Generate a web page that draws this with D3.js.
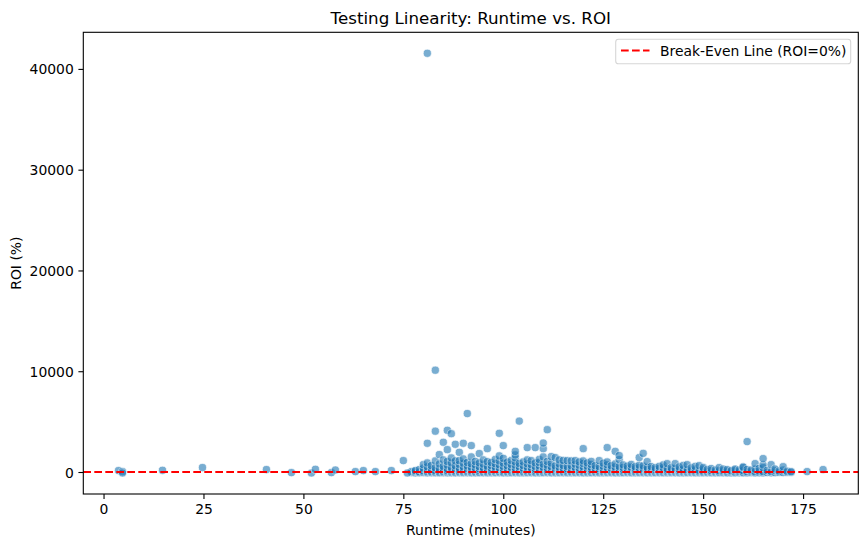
<!DOCTYPE html>
<html>
  <head>
    <meta content="text/html;charset=utf-8" http-equiv="Content-Type" />
    <title>Testing Linearity: Runtime vs. ROI</title>
    <script src="https://d3js.org/d3.v7.min.js"></script>
    <style>
      body { margin: 0; background: #fff; }
      svg text { font-family: "DejaVu Sans", sans-serif; fill: #000; }
    </style>
  </head>

  <body>
    <div id="canvas"></div>
  </body>

  <script>
    // runtime (minutes), ROI (%) for the scattered films outside the main blob
    var sparsePoints = [
      [3.75, 140], [4.75, 40], [4.75, -100], [14.75, 170], [24.75, 440],
      [40.75, 240], [47, -60], [52, -100], [53, 270], [57, -60], [58, 200],
      [63, 40], [65, 140], [68, 40], [72, 140], [75, 1130], [76, -100],
      [176, 40], [180, 240]
    ];

    // high ROI films
    var highPoints = [
      [81, 41550], [83, 10100], [91, 5800], [104, 5050], [111, 4200],
      [83, 4050], [86, 4140], [87, 3800], [99, 3840], [81, 2850], [85, 2950],
      [88, 2750], [90, 2850], [92, 2620], [86, 2220], [96, 2320], [100, 2620],
      [106, 2420], [108, 2420], [110, 2320], [110, 2880], [120, 2320],
      [126, 2420], [128, 2050], [129, 1630], [135, 1850], [161, 3020],
      [165, 1330]
    ];

    // dense blob: runtime -> list of ROI values
    var clusterRows = [
      [77, [-60, 40]],
      [78, [-90, 60, 150]],
      [79, [-80, 20, 250]],
      [80, [-70, 10, 120, 380, 730]],
      [81, [-95, -30, 60, 210, 520, 900]],
      [82, [-85, -20, 80, 300, 640]],
      [83, [-90, -40, 30, 150, 420, 1100]],
      [84, [-100, -50, 20, 180, 350, 800, 1730]],
      [85, [-80, 0, 90, 260, 560, 1200]],
      [86, [-95, -35, 50, 140, 310, 680, 1050]],
      [87, [-90, -10, 110, 240, 470, 900, 1400]],
      [88, [-100, -60, 30, 170, 330, 620, 1100]],
      [89, [-85, -25, 70, 210, 400, 760, 1130, 1950]],
      [90, [-95, -45, 15, 120, 280, 510, 880, 1300]],
      [91, [-80, -20, 60, 190, 350, 600, 950]],
      [92, [-100, -55, 25, 140, 300, 480, 820, 1500]],
      [93, [-90, -30, 80, 230, 420, 700, 1050]],
      [94, [-95, -40, 10, 160, 320, 540, 900, 1830]],
      [95, [-85, -15, 100, 250, 450, 780, 1200]],
      [96, [-100, -50, 40, 180, 340, 580, 1030]],
      [97, [-90, -25, 70, 210, 390, 650, 950]],
      [98, [-95, -35, 20, 150, 290, 500, 830, 1250]],
      [99, [-80, -10, 90, 240, 430, 720, 1100, 1600]],
      [100, [-100, -60, 30, 170, 330, 560, 880, 1350]],
      [101, [-90, -30, 60, 200, 370, 620, 980]],
      [102, [-95, -45, 15, 130, 280, 470, 760, 1150]],
      [103, [-85, -20, 80, 220, 400, 690, 1000, 1400, 1700, 2050]],
      [104, [-100, -50, 40, 160, 310, 540, 850]],
      [105, [-90, -25, 70, 210, 380, 640, 1000]],
      [106, [-95, -40, 20, 140, 290, 500, 820, 1200]],
      [107, [-85, -15, 100, 250, 440, 740, 1130]],
      [108, [-100, -55, 30, 170, 330, 560, 900]],
      [109, [-90, -30, 60, 200, 360, 610, 950, 1250]],
      [110, [-95, -45, 10, 130, 270, 480, 780, 1500]],
      [111, [-80, -10, 90, 230, 410, 680, 1050]],
      [112, [-100, -60, 25, 160, 320, 540, 880, 1530]],
      [113, [-90, -30, 70, 200, 370, 600, 1430]],
      [114, [-95, -40, 15, 140, 280, 490, 800, 1200]],
      [115, [-85, -20, 80, 220, 390, 650, 1150]],
      [116, [-100, -50, 35, 170, 320, 550, 1130]],
      [117, [-90, -25, 60, 200, 360, 620, 1100]],
      [118, [-95, -45, 20, 130, 270, 470, 780, 1130]],
      [119, [-85, -15, 90, 230, 400, 680, 1000]],
      [120, [-100, -55, 30, 160, 310, 520, 850, 1100]],
      [121, [-90, -30, 70, 200, 350, 590, 900]],
      [122, [-95, -40, 10, 140, 280, 460, 760, 1050]],
      [123, [-85, -20, 80, 220, 380, 630]],
      [124, [-100, -50, 40, 170, 320, 540, 1130]],
      [125, [-90, -25, 60, 190, 340, 580, 880]],
      [126, [-95, -45, 20, 130, 260, 450, 720, 1000]],
      [127, [-85, -15, 90, 220, 380, 620]],
      [128, [-100, -55, 30, 160, 300, 500, 800]],
      [129, [-90, -30, 70, 200, 340, 560, 1230]],
      [130, [-95, -40, 10, 140, 270, 450, 700]],
      [131, [-85, -20, 80, 210, 360, 580]],
      [132, [-100, -50, 30, 160, 300, 480, 750]],
      [133, [-90, -25, 60, 190, 330, 520]],
      [134, [-95, -45, 20, 130, 260, 430, 680, 1430]],
      [135, [-85, -15, 90, 220, 370, 600]],
      [136, [-100, -55, 30, 150, 290, 460, 1030]],
      [137, [-90, -30, 70, 190, 330, 540]],
      [138, [-95, -40, 10, 130, 260, 420]],
      [139, [-85, -20, 80, 200, 350, 560]],
      [140, [-100, -50, 30, 150, 280, 450, 700]],
      [141, [-90, -25, 60, 180, 320, 830]],
      [142, [-95, -45, 20, 120, 250, 420]],
      [143, [-85, -15, 90, 210, 360, 830]],
      [144, [-100, -55, 30, 140, 280, 500]],
      [145, [-90, -30, 60, 170, 310, 650]],
      [146, [-95, -40, 10, 120, 240, 730]],
      [147, [-85, -20, 80, 190, 400]],
      [148, [-100, -50, 30, 140, 280, 560]],
      [149, [-90, -25, 60, 170, 630]],
      [150, [-95, -45, 20, 120, 300, 450]],
      [151, [-85, -15, 90, 230]],
      [152, [-100, -50, 30, 150, 350]],
      [153, [-90, -30, 70, 200]],
      [154, [-95, -40, 10, 130, 440]],
      [155, [-85, 20, 140, 300]],
      [156, [-100, -30, 100, 250]],
      [157, [-90, 40, 140]],
      [158, [-95, 10, 180, 300]],
      [159, [-80, 60, 200]],
      [160, [-100, -20, 130, 440, 500]],
      [161, [-90, 30, 250]],
      [162, [-70, 80, 200]],
      [163, [-95, 20, 300, 830]],
      [164, [-80, 100, 350]],
      [165, [-90, 40, 440, 700]],
      [166, [-60, 150]],
      [167, [-85, 60, 730]],
      [168, [-70, 140, 300]],
      [169, [-50, 100]],
      [170, [-60, 200, 530]],
      [171, [-40, 80]],
      [172, [-50, 40]]
    ];

    var xTicks = [0, 25, 50, 75, 100, 125, 150, 175];
    var yTicks = [0, 10000, 20000, 30000, 40000];
    var legendLabel = "Break-Even Line (ROI=0%)";

    var W = 868, H = 547;
    var axL = 83.3, axR = 858.3, axT = 32.3, axB = 494;

    var data = [];
    clusterRows.forEach(function (row) {
      row[1].forEach(function (v) { data.push({ runtime: row[0], roi: v }); });
    });
    sparsePoints.concat(highPoints).forEach(function (p) {
      data.push({ runtime: p[0], roi: p[1] });
    });

    // 5% padding like matplotlib autoscale
    function padded(ext) {
      var p = (ext[1] - ext[0]) * 0.05;
      return [ext[0] - p, ext[1] + p];
    }
    var x = d3.scaleLinear()
      .domain(padded(d3.extent(data, function (d) { return d.runtime; })))
      .range([axL, axR]);
    var y = d3.scaleLinear()
      .domain(padded(d3.extent(data, function (d) { return d.roi; })))
      .range([axB, axT]);

    var svg = d3.select("#canvas").append("svg")
      .attr("width", W).attr("height", H);

    svg.append("rect").attr("width", W).attr("height", H).attr("fill", "#fff");

    var plot = svg.append("g");
    plot.append("clipPath").attr("id", "clip").append("rect")
      .attr("x", axL).attr("y", axT).attr("width", axR - axL).attr("height", axB - axT);

    plot.append("g").attr("clip-path", "url(#clip)")
      .selectAll("circle")
      .data(data)
      .enter()
      .append("circle")
      .attr("cx", function (d) { return x(d.runtime); })
      .attr("cy", function (d) { return y(d.roi); })
      .attr("r", 4.1)
      .attr("fill", "#1f77b4")
      .attr("stroke", "#fff")
      .attr("stroke-width", 0.7)
      .attr("opacity", 0.6);

    // break-even line at ROI = 0
    plot.append("line")
      .attr("x1", axL).attr("x2", axR)
      .attr("y1", y(0)).attr("y2", y(0))
      .attr("stroke", "red")
      .attr("stroke-width", 2.08)
      .attr("stroke-dasharray", "7.7,3.3");

    // axes
    var xAxis = svg.append("g").attr("transform", "translate(0," + axB + ")")
      .call(d3.axisBottom(x).tickValues(xTicks).tickSize(4.9).tickPadding(4.6).tickFormat(d3.format("d")));
    var yAxis = svg.append("g").attr("transform", "translate(" + axL + ",0)")
      .call(d3.axisLeft(y).tickValues(yTicks).tickSize(4.9).tickPadding(4.6).tickFormat(d3.format("d")));
    [xAxis, yAxis].forEach(function (a) {
      a.select(".domain").remove();
      a.selectAll(".tick line").attr("stroke", "#000").attr("stroke-width", 1.1);
      a.selectAll(".tick text").style("font-size", "13.9px").attr("fill", "#000");
    });
    xAxis.selectAll(".tick text").attr("dy", "0.73em");
    yAxis.selectAll(".tick text").attr("dy", "0.36em");

    svg.append("rect")
      .attr("x", axL).attr("y", axT)
      .attr("width", axR - axL).attr("height", axB - axT)
      .attr("fill", "none").attr("stroke", "#000").attr("stroke-width", 1.1);

    svg.append("text")
      .attr("x", (axL + axR) / 2).attr("y", 24)
      .attr("text-anchor", "middle")
      .style("font-size", "16.7px")
      .text("Testing Linearity: Runtime vs. ROI");

    svg.append("text")
      .attr("x", (axL + axR) / 2).attr("y", 535)
      .attr("text-anchor", "middle")
      .style("font-size", "13.9px")
      .text("Runtime (minutes)");

    svg.append("text")
      .attr("transform", "translate(21," + (axT + axB) / 2 + ") rotate(-90)")
      .attr("text-anchor", "middle")
      .style("font-size", "13.9px")
      .text("ROI (%)");

    // legend
    var lg = svg.append("g");
    lg.append("rect")
      .attr("x", 615.7).attr("y", 39.3)
      .attr("width", 235).attr("height", 24.4)
      .attr("rx", 2.8)
      .attr("fill", "#fff").attr("fill-opacity", 0.8)
      .attr("stroke", "#d6d6d6").attr("stroke-width", 1.1);
    lg.append("line")
      .attr("x1", 621).attr("x2", 649.5)
      .attr("y1", 50.5).attr("y2", 50.5)
      .attr("stroke", "red").attr("stroke-width", 2.08)
      .attr("stroke-dasharray", "7.7,3.3");
    lg.append("text")
      .attr("x", 660).attr("y", 56)
      .style("font-size", "13.9px")
      .text(legendLabel);
  </script>
</html>
